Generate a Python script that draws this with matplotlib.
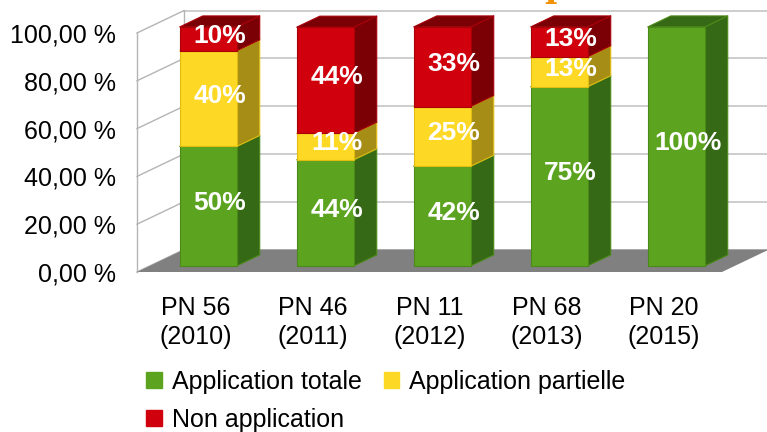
import numpy as np
import matplotlib
matplotlib.use('Agg')
import matplotlib.pyplot as plt
from matplotlib.patches import Polygon, Patch

categories = ['PN 56\n(2010)', 'PN 46\n(2011)', 'PN 11\n(2012)', 'PN 68\n(2013)', 'PN 20\n(2015)']
totale = [50.0, 44.4, 41.7, 75.0, 100.0]
partielle = [40.0, 11.1, 25.0, 12.5, 0.0]
non_app = [10.0, 44.4, 33.3, 12.5, 0.0]
yticks = [0, 20, 40, 60, 80, 100]

series = [
    ('Application totale', totale, '#5ca41f', '#356915', '#4b8a18'),
    ('Application partielle', partielle, '#fdd825', '#a68e16', '#e0bd10'),
    ('Non application', non_app, '#d0000c', '#7a0006', '#a80008'),
]

plt.rcParams['font.family'] = ['Liberation Sans', 'DejaVu Sans']

fig = plt.figure(figsize=(7.67, 4.32), dpi=100)
W, H = 767, 432
ax = fig.add_axes([137 / W, 160 / H, 585 / W, 239 / H])
ax.set_xlim(-0.5, 4.5)
ax.set_ylim(0, 100)

# pseudo 3D depth (full depth of the floor, in data units)
DX, DY = 0.402, 9.4
f0, dep, bw = 0.27, 0.49, 0.487

def off(f):
    return f * DX, f * DY

# back wall grid + left wall
bx, by = off(1)
for v in yticks:
    ax.plot([-0.5 + bx, 4.9], [v + by, v + by], color='#c0c0c0', lw=1.1, clip_on=False, zorder=1)
    ax.plot([-0.5, -0.5 + bx], [v, v + by], color='#b4b4b4', lw=1.0, clip_on=False, zorder=1)
ax.plot([-0.5, -0.5], [0, 100], color='#b4b4b4', lw=1.0, clip_on=False, zorder=1)
ax.plot([-0.5 + bx, -0.5 + bx], [by, 100 + by], color='#b4b4b4', lw=1.0, clip_on=False, zorder=1)

# floor
ax.add_patch(Polygon([(-0.5, 0), (4.5, 0), (4.5 + bx, by), (-0.5 + bx, by)],
                     closed=True, facecolor='#808080', edgecolor='none', clip_on=False, zorder=2))

sx, sy = off(f0)
dx, dy = off(dep)
for i in range(len(categories)):
    base = 0.0
    for name, vals, cf, cs, ce in series:
        v = vals[i]
        if v <= 0:
            continue
        y0, y1 = base + sy, base + v + sy
        xl, xr = i - bw / 2 + sx, i + bw / 2 + sx
        side = [(xr, y0), (xr, y1), (xr + dx, y1 + dy), (xr + dx, y0 + dy)]
        top = [(xl, y1), (xr, y1), (xr + dx, y1 + dy), (xl + dx, y1 + dy)]
        front = [(xl, y0), (xr, y0), (xr, y1), (xl, y1)]
        for pts, c in ((side, cs), (top, cs), (front, cf)):
            ax.add_patch(Polygon(pts, closed=True, facecolor=c, edgecolor=ce, lw=0.8,
                                 joinstyle='round', clip_on=False, zorder=3))
        ax.text(i + sx + dx / 2, base + v / 2 + sy + dy / 2 - 1,
                '%d%%' % int(v + 0.5), color='white', fontsize=19, fontweight='bold',
                ha='center', va='center', zorder=5)
        base += v

ax.set_xticks(range(len(categories)))
ax.set_xticklabels(categories, fontsize=18, linespacing=1.3)
ax.set_yticks(yticks)
ax.set_yticklabels(['%d,00 %%' % v for v in yticks], fontsize=18)
ax.tick_params(axis='both', length=0)
ax.tick_params(axis='x', pad=17)
ax.tick_params(axis='y', pad=15)
for s in ax.spines.values():
    s.set_visible(False)
ax.set_facecolor('none')

handles = [Patch(color=series[0][2], label=series[0][0]),
           Patch(color=series[2][2], label=series[2][0]),
           Patch(color=series[1][2], label=series[1][0])]
fig.legend(handles=handles, ncol=2, loc='upper left', bbox_to_anchor=(146 / W, 1 - 370 / H),
           frameon=False, fontsize=18, handlelength=0.62, handleheight=0.62,
           handletextpad=0.4, columnspacing=0.9, labelspacing=0.55, borderaxespad=0, borderpad=0)

# cut-off title fragment at the top
fig.text(544 / W, 1 + 3.5 / H, 'p', color='#f39200', fontsize=24, fontweight='bold',
         family='DejaVu Serif', ha='left', va='baseline')

fig.savefig('out.png', dpi=100)
